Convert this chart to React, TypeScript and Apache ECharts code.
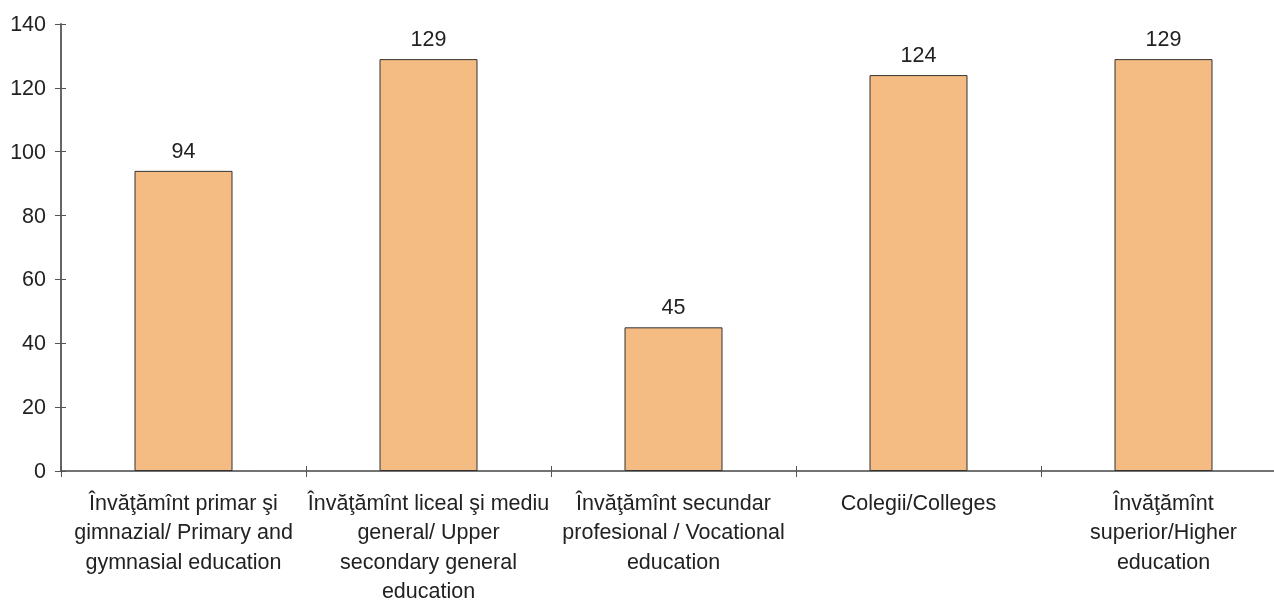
import React, { useEffect, useRef } from "react";
import * as echarts from "echarts";

const categories = [
  "Învăţămînt primar şi\ngimnazial/ Primary and\ngymnasial education",
  "Învăţămînt liceal şi mediu\ngeneral/ Upper\nsecondary general\neducation",
  "Învăţămînt secundar\nprofesional / Vocational\neducation",
  "Colegii/Colleges",
  "Învăţămînt\nsuperior/Higher\neducation",
];
const values = [94, 129, 45, 124, 129];
const yMin = 0;
const yMax = 140;
const yStep = 20;

export default function App() {
  const ref = useRef<HTMLDivElement>(null);
  useEffect(() => {
    if (!ref.current) return;
    document.documentElement.style.overflow = "hidden";
    document.body.style.overflow = "hidden";
    const chart = echarts.init(ref.current, null, { renderer: "svg" });
    const font = "'Liberation Sans', Arial, sans-serif";
    chart.setOption({
      animation: false,
      grid: { left: 61, right: 14, top: 24, bottom: 130, containLabel: false, outerBoundsMode: "none" },
      xAxis: [
        {
          type: "category",
          data: categories,
          axisLine: { show: true, lineStyle: { color: "#444", width: 1.5 } },
          axisTick: { show: true, length: 6, lineStyle: { color: "#555" } },
          axisLabel: {
            color: "#222",
            fontFamily: font,
            fontSize: 21.5,
            lineHeight: 29.5,
            margin: 17,
            interval: 0,
          },
        },
        {
          type: "category",
          data: categories,
          position: "bottom",
          axisLine: { show: false },
          axisTick: { show: true, inside: true, length: 5, lineStyle: { color: "#555" } },
          axisLabel: { show: false },
        },
      ],
      yAxis: [
        {
          type: "value",
          min: yMin,
          max: yMax,
          interval: yStep,
          axisLine: { show: true, lineStyle: { color: "#666", width: 2 } },
          axisTick: { show: true, length: 6, lineStyle: { color: "#555" } },
          splitLine: { show: false },
          axisLabel: { color: "#222", fontFamily: font, fontSize: 21.5, margin: 15 },
        },
        {
          type: "value",
          min: yMin,
          max: yMax,
          interval: yStep,
          position: "left",
          axisLine: { show: false },
          axisTick: { show: true, inside: true, length: 5, lineStyle: { color: "#555" } },
          splitLine: { show: false },
          axisLabel: { show: false },
        },
      ],
      series: [
        {
          type: "bar",
          data: values,
          barWidth: "40%",
          itemStyle: { color: "#F4BB83", borderColor: "#333", borderWidth: 1 },
          label: {
            show: true,
            position: "top",
            distance: 9,
            color: "#222",
            fontFamily: font,
            fontSize: 21.5,
          },
        },
      ],
    });
    return () => chart.dispose();
  }, []);
  return (
    <div
      style={{ position: "fixed", left: 0, top: 0, width: 1274, height: 601, overflow: "hidden" }}
    >
      <div ref={ref} style={{ position: "absolute", left: 0, top: 0, width: 1300, height: 601 }} />
    </div>
  );
}
